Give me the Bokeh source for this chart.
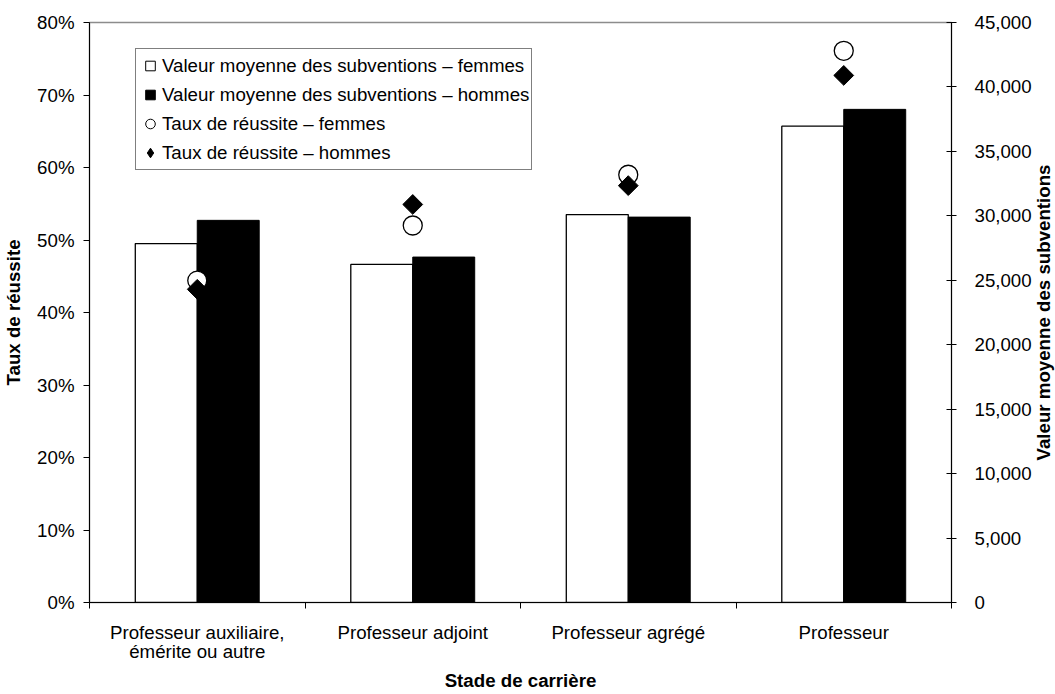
import math
from bokeh.plotting import figure
from bokeh.layouts import row
from bokeh.models import (Range1d, LinearAxis, FixedTicker, NumeralTickFormatter,
                          ColumnDataSource, Legend, LegendItem)
from bokeh.core.properties import value
from bokeh.transform import dodge
from bokeh.embed import file_html
from bokeh.resources import INLINE

# ---- data ----
categories = ["Professeur auxiliaire,\némérite ou autre", "Professeur adjoint",
              "Professeur agrégé", "Professeur"]
subv_femmes = [27850, 26230, 30100, 36960]
subv_hommes = [29650, 26800, 29900, 38260]
taux_femmes = [0.444, 0.520, 0.590, 0.761]
taux_hommes = [0.432, 0.549, 0.575, 0.727]
pct_ticks = [0, 0.1, 0.2, 0.3, 0.4, 0.5, 0.6, 0.7, 0.8]
subv_ticks = [0, 5000, 10000, 15000, 20000, 25000, 30000, 35000, 40000, 45000]
legend_labels = ["Valeur moyenne des subventions – femmes",
                 "Valeur moyenne des subventions – hommes",
                 "Taux de réussite – femmes",
                 "Taux de réussite – hommes"]
x_title = "Stade de carrière"
y_title = "Taux de réussite"
y2_title = "Valeur moyenne des subventions"

FONT = "Liberation Sans"
FS = "18.7px"
BAR_W = 0.2875
FRAME_W = 862
FRAME_H = 580
TOP = 22
BOTTOM = 84

n = len(categories)
centers = [i + 0.5 for i in range(n)]
src = ColumnDataSource(dict(center=centers, sf=subv_femmes, sh=subv_hommes,
                            tf=taux_femmes, th=taux_hommes))

p = figure(frame_width=FRAME_W, frame_height=FRAME_H, x_range=Range1d(0, n),
           y_range=Range1d(0, 0.8), output_backend="svg", toolbar_location=None,
           min_border_left=82, min_border_right=10, min_border_top=TOP,
           min_border_bottom=BOTTOM)
p.extra_y_ranges = {"sub": Range1d(0, 45000), "hidden": Range1d(-2, -1)}
p.xgrid.visible = False
p.ygrid.visible = False
p.outline_line_color = "#8c8c8c"
p.outline_line_width = 1.5
p.background_fill_color = "white"
p.border_fill_color = "white"

# bars
bf = p.vbar(x=dodge("center", -BAR_W / 2, range=p.x_range), top="sf", width=BAR_W,
            source=src, y_range_name="sub", fill_color="white", line_color="black",
            line_width=1.3)
bh = p.vbar(x=dodge("center", BAR_W / 2, range=p.x_range), top="sh", width=BAR_W,
            source=src, y_range_name="sub", fill_color="black", line_color="black",
            line_width=1.0)
# markers
cf = p.scatter(x="center", y="tf", source=src, marker="circle", size=19,
               fill_color="white", line_color="black", line_width=1.3)
ch = p.scatter(x="center", y="th", source=src, marker="square", angle=math.pi / 4,
               size=14, fill_color="black", line_color="black", line_width=1)

# legend proxies (plotted on an out-of-view range; they only appear in the legend)
l1 = p.scatter(x="center", y="tf", source=src, y_range_name="hidden", marker="square",
               fill_color="white", line_color="black", line_width=1)
l2 = p.scatter(x="center", y="th", source=src, y_range_name="hidden", marker="square",
               fill_color="black", line_color="black", line_width=1)
l3 = p.scatter(x="center", y="tf", source=src, y_range_name="hidden", marker="circle",
               fill_color="white", line_color="black", line_width=1)
l4 = p.scatter(x="center", y="th", source=src, y_range_name="hidden", marker="diamond",
               fill_color="black", line_color="black", line_width=1)

legend = Legend(items=[LegendItem(label=legend_labels[0], renderers=[l1], index=0),
                       LegendItem(label=legend_labels[1], renderers=[l2], index=0),
                       LegendItem(label=legend_labels[2], renderers=[l3], index=0),
                       LegendItem(label=legend_labels[3], renderers=[l4], index=0)],
                location=(46, 432))
legend.label_text_font = FONT
legend.label_text_font_size = FS
legend.label_text_color = "black"
legend.glyph_width = 24
legend.glyph_height = 29
legend.label_height = 29
legend.spacing = 0
legend.padding = 2
legend.margin = 0
legend.label_standoff = 0
legend.border_line_color = "black"
legend.border_line_width = 1
legend.background_fill_color = "white"
legend.background_fill_alpha = 1
p.add_layout(legend, "center")

# x axis
xa = p.xaxis[0]
xa.ticker = FixedTicker(ticks=centers, minor_ticks=[0, 1, 2, 3, 4])
xa.major_label_overrides = {c: lab for c, lab in zip(centers, categories)}
xa.major_tick_in = 0
xa.major_tick_out = 0
xa.major_tick_line_color = None
xa.minor_tick_in = 0
xa.minor_tick_out = 6
xa.minor_tick_line_color = "black"
xa.axis_line_color = "black"
xa.major_label_standoff = 13
xa.major_label_text_font = FONT
xa.major_label_text_font_size = FS
xa.major_label_text_color = "black"
xa.major_label_text_line_height = 0.95
xa.axis_label = x_title
xa.axis_label_text_font = FONT
xa.axis_label_text_font_size = FS
xa.axis_label_text_font_style = "bold"
xa.axis_label_text_color = "black"
xa.axis_label_standoff = 5

# left y axis
ya = p.yaxis[0]
ya.ticker = FixedTicker(ticks=pct_ticks)
ya.formatter = NumeralTickFormatter(format="0%")
ya.minor_tick_line_color = None
ya.major_tick_in = 0
ya.major_tick_out = 6
ya.major_tick_line_color = "black"
ya.axis_line_color = "black"
ya.major_label_standoff = 9
ya.major_label_text_font = FONT
ya.major_label_text_font_size = FS
ya.major_label_text_color = "black"
ya.axis_label = y_title
ya.axis_label_text_font = FONT
ya.axis_label_text_font_size = FS
ya.axis_label_text_font_style = "bold"
ya.axis_label_text_color = "black"
ya.axis_label_standoff = 10

# right y axis
ra = LinearAxis(y_range_name="sub", ticker=FixedTicker(ticks=subv_ticks),
                formatter=NumeralTickFormatter(format="0,0"))
ra.minor_tick_line_color = None
ra.major_tick_in = 5
ra.major_tick_out = 5
ra.major_tick_line_color = "black"
ra.axis_line_color = "black"
ra.major_label_standoff = 18
ra.major_label_text_font = FONT
ra.major_label_text_font_size = FS
ra.major_label_text_color = "black"
p.add_layout(ra, "right")

# narrow companion figure carrying the right axis title (reads bottom-to-top)
t = figure(frame_width=24, frame_height=FRAME_H, x_range=Range1d(0, 1), y_range=Range1d(0, 1),
           output_backend="svg", toolbar_location=None, x_axis_location=None,
           y_axis_location=None, min_border_left=0, min_border_right=0,
           min_border_top=TOP, min_border_bottom=BOTTOM)
t.xgrid.visible = False
t.ygrid.visible = False
t.outline_line_color = None
t.background_fill_color = "white"
t.border_fill_color = "white"
t.text(x=[0.36], y=[0.5], text=[y2_title], angle=math.pi / 2, text_align="center",
       text_baseline="middle", text_font=value(FONT), text_font_size=FS,
       text_font_style="bold", text_color="black")

layout = row(p, t, spacing=0)
open("out.html", "w").write(file_html(layout, INLINE))
